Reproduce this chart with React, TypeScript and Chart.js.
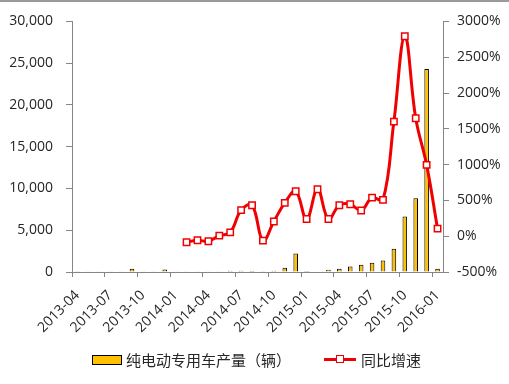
import React, { useEffect, useRef } from 'react';
import { Chart, registerables } from 'chart.js';

Chart.register(...registerables);

const categories = [
  '2013-04', '2013-05', '2013-06', '2013-07', '2013-08', '2013-09', '2013-10', '2013-11', '2013-12',
  '2014-01', '2014-02', '2014-03', '2014-04', '2014-05', '2014-06', '2014-07', '2014-08', '2014-09',
  '2014-10', '2014-11', '2014-12', '2015-01', '2015-02', '2015-03', '2015-04', '2015-05', '2015-06',
  '2015-07', '2015-08', '2015-09', '2015-10', '2015-11', '2015-12', '2016-01',
];

const production = [
  80, 20, 20, 20, 20, 400, 20, 20, 300,
  20, 20, 20, 20, 20, 150, 150, 120, 40,
  150, 520, 2200, 130, 50, 280, 400, 660, 870,
  1110, 1370, 2780, 6650, 8830, 24300, 400,
];

const growth: (number | null)[] = [
  null, null, null, null, null, null, null, null, null,
  null, -85, -57, -70, 8, 54, 364, 433, -61,
  206, 465, 627, 240, 655, 240, 433, 447, 359,
  539, 507, 1601, 2792, 1647, 996, 105,
];

const barLabel = '纯电动专用车产量（辆）';
const lineLabel = '同比增速';

const RED = '#F00000';
const GOLD = '#FFC000';
const AXIS = '#868686';
const TEXT = '#262626';
const FONT = '"Open Sans", "Noto Sans", sans-serif';

export default function App() {
  const ref = useRef<HTMLCanvasElement>(null);

  useEffect(() => {
    if (!ref.current) return;
    const chart = new Chart(ref.current, {
      type: 'bar',
      data: {
        labels: categories,
        datasets: [
          {
            type: 'line',
            label: lineLabel,
            data: growth,
            yAxisID: 'y1',
            borderColor: RED,
            borderWidth: 3,
            tension: 0.4,
            pointStyle: 'rect',
            pointRadius: 4.5,
            pointBackgroundColor: '#ffffff',
            pointBorderColor: RED,
            pointBorderWidth: 1.5,
            order: 0,
          } as any,
          {
            type: 'bar',
            label: barLabel,
            data: production,
            yAxisID: 'y',
            backgroundColor: GOLD,
            borderColor: '#000000',
            borderWidth: 1,
            categoryPercentage: 1,
            barPercentage: 0.42,
            order: 1,
          },
        ],
      },
      options: {
        responsive: false,
        animation: false,
        layout: { padding: { top: 19, left: 0, right: 0, bottom: 0 } },
        plugins: {
          legend: { display: false },
          tooltip: { enabled: false },
        },
        scales: {
          x: {
            offset: true,
            grid: {
              display: true,
              drawOnChartArea: false,
              drawTicks: true,
              tickLength: 5,
              offset: true,
              color: (ctx: any) => (typeof ctx.index === 'number' && ctx.index % 3 === 0 ? AXIS : 'rgba(0,0,0,0)'),
            },
            border: { display: true, color: AXIS },
            ticks: {
              autoSkip: false,
              maxRotation: 45,
              minRotation: 45,
              padding: 10,
              color: TEXT,
              font: { family: FONT, size: 14 },
              callback: (_v: any, i: number) => (i % 3 === 0 ? categories[i] : ''),
            },
            afterFit: (s: any) => { s.height = 112; },
          },
          y: {
            position: 'left',
            min: 0,
            max: 30000,
            grid: { drawOnChartArea: false, drawTicks: true, tickLength: 6, color: AXIS },
            border: { display: true, color: AXIS },
            ticks: {
              stepSize: 5000,
              padding: 13,
              color: TEXT,
              font: { family: FONT, size: 14 },
              callback: (v: any) => Number(v).toLocaleString('en-US'),
            },
            afterFit: (s: any) => { s.width = 72; },
          },
          y1: {
            position: 'right',
            min: -500,
            max: 3000,
            grid: { drawOnChartArea: false, drawTicks: true, tickLength: 6, color: AXIS },
            border: { display: true, color: AXIS },
            ticks: {
              stepSize: 500,
              padding: 8,
              color: TEXT,
              font: { family: FONT, size: 14 },
              callback: (v: any) => `${v}%`,
            },
            afterFit: (s: any) => { s.width = 66; },
          },
        },
      },
    });
    return () => chart.destroy();
  }, []);

  const legendText: React.CSSProperties = {
    position: 'absolute',
    top: 351,
    fontFamily: '"Noto Sans CJK SC", sans-serif',
    fontSize: 15,
    lineHeight: '17px',
    color: TEXT,
    whiteSpace: 'nowrap',
  };

  return (
    <div style={{ position: 'fixed', left: 0, top: 0, width: 509, height: 384, background: '#fff', overflow: 'hidden' }}>
      <div style={{ position: 'absolute', left: 0, top: 0, width: 509, height: 0, borderTop: '2px solid #9a9a9a' }} />
      <canvas ref={ref} width={509} height={384} style={{ display: 'block' }} />
      <div style={{ position: 'absolute', left: 92, top: 355, width: 28, height: 8, background: GOLD, border: '1px solid #000' }} />
      <div style={{ ...legendText, left: 126 }}>{barLabel}</div>
      <div style={{ position: 'absolute', left: 324, top: 358, width: 32, height: 3, background: RED }} />
      <div style={{ position: 'absolute', left: 336, top: 355, width: 6, height: 6, background: '#fff', border: `1.5px solid ${RED}` }} />
      <div style={{ ...legendText, left: 361 }}>{lineLabel}</div>
    </div>
  );
}
